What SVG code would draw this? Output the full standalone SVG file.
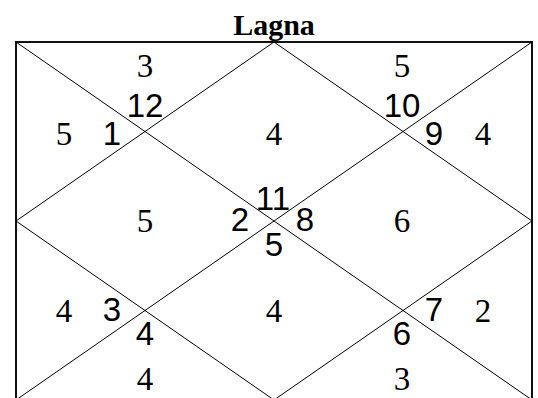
<svg xmlns="http://www.w3.org/2000/svg" width="538" height="398" viewBox="0 0 538 398">
<style>
.frame{fill:none;stroke:#111;stroke-width:2}
.ln{fill:none;stroke:#000;stroke-width:1}
.title{font-family:"Liberation Serif","Times New Roman",serif;font-weight:bold;font-size:30px;text-anchor:middle;fill:#000}
.sr{font-family:"Liberation Serif","Times New Roman",serif;font-size:33px;text-anchor:middle;fill:#000}
.ss{font-family:"Liberation Sans",Arial,sans-serif;font-size:33px;text-anchor:middle;fill:#000}
</style>
<rect width="538" height="398" fill="#fff"/>
<text id="title" class="title" x="274" y="35">Lagna</text>
<g id="connectors">
<rect class="frame" x="16" y="42" width="516" height="358"/>
<line class="ln" x1="16" y1="42" x2="532" y2="400"/>
<line class="ln" x1="532" y1="42" x2="16" y2="400"/>
<polygon class="ln" points="274,42 532,221 274,400 16,221"/>
</g>
<g id="house1"><text class="sr" x="274" y="145">4</text><text class="ss" x="273" y="210">11</text></g>
<g id="house2"><text class="sr" x="145" y="77">3</text><text class="ss" x="145" y="117">12</text></g>
<g id="house3"><text class="sr" x="64" y="145">5</text><text class="ss" x="112" y="145">1</text></g>
<g id="house4"><text class="sr" x="145" y="232">5</text><text class="ss" x="240" y="231">2</text></g>
<g id="house5"><text class="sr" x="64" y="322">4</text><text class="ss" x="112" y="321">3</text></g>
<g id="house6"><text class="sr" x="145" y="390">4</text><text class="ss" x="145" y="345">4</text></g>
<g id="house7"><text class="sr" x="274" y="322">4</text><text class="ss" x="274" y="256">5</text></g>
<g id="house8"><text class="sr" x="402" y="390">3</text><text class="ss" x="402" y="345">6</text></g>
<g id="house9"><text class="sr" x="483" y="322">2</text><text class="ss" x="434" y="321">7</text></g>
<g id="house10"><text class="sr" x="402" y="232">6</text><text class="ss" x="305" y="231">8</text></g>
<g id="house11"><text class="sr" x="483" y="145">4</text><text class="ss" x="434" y="145">9</text></g>
<g id="house12"><text class="sr" x="402" y="77">5</text><text class="ss" x="402" y="117">10</text></g>
</svg>
